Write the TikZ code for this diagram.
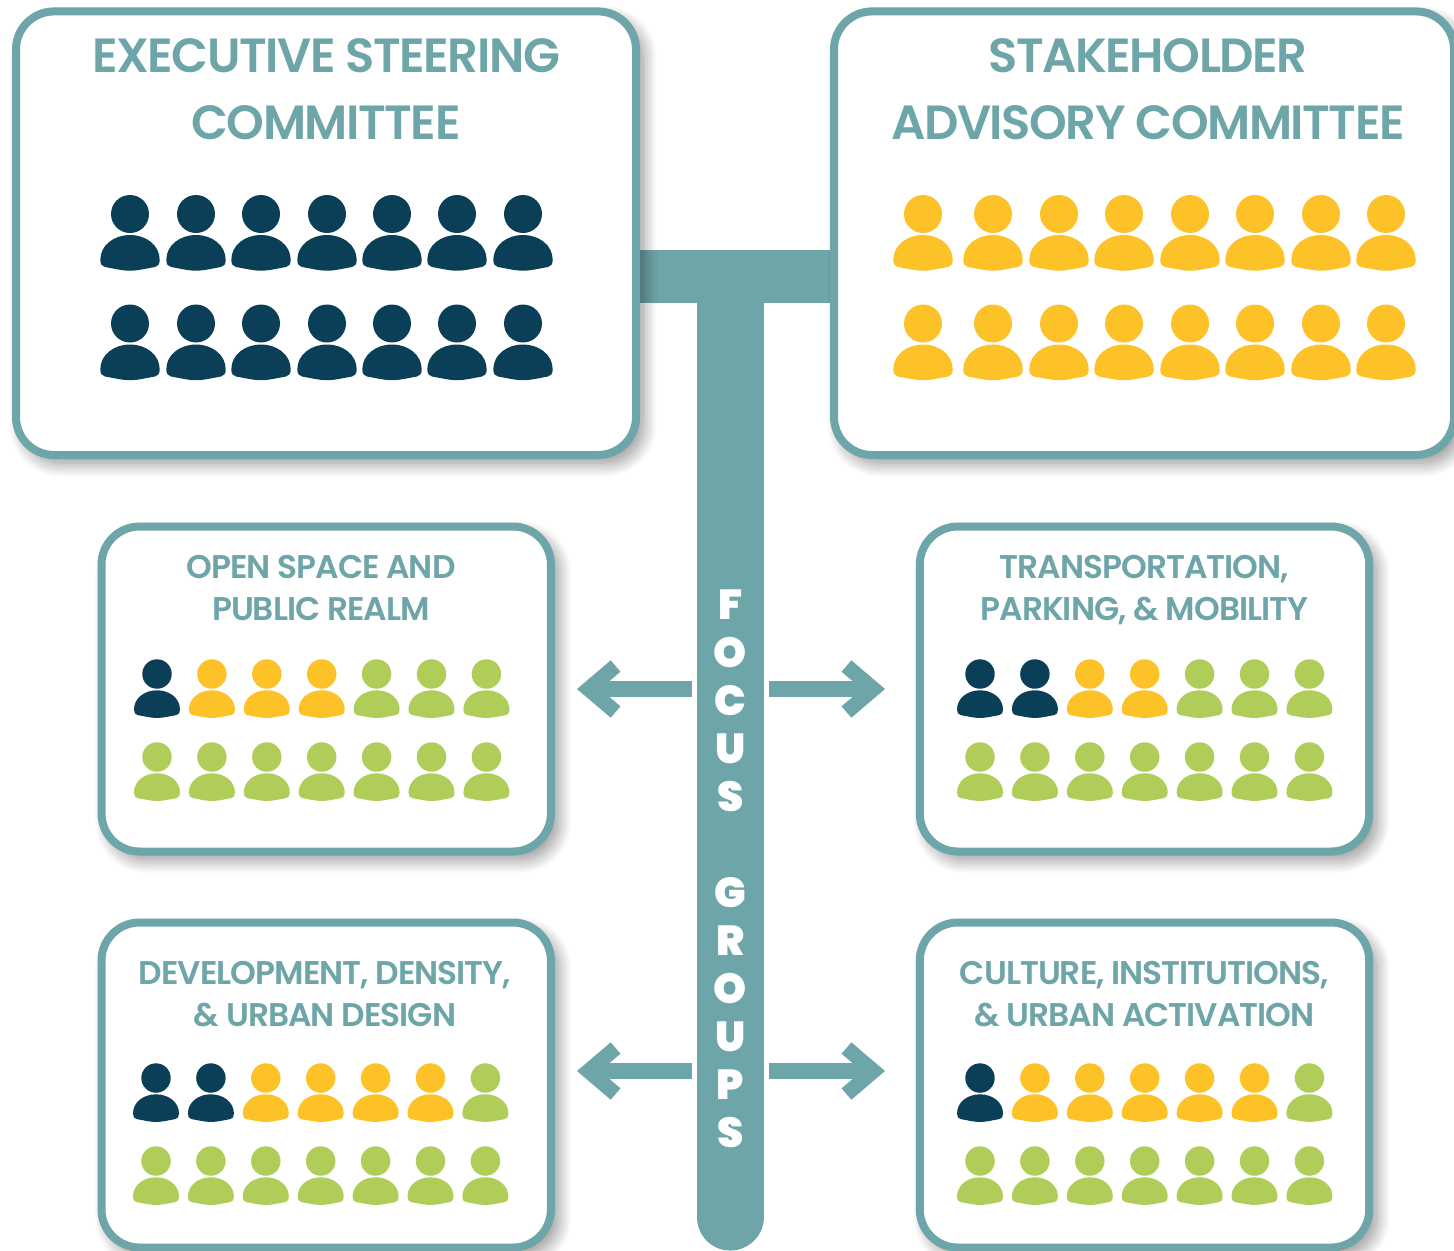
\documentclass[tikz,border=0pt]{standalone}
\usepackage{fontspec}
\usepackage{tikz}
\usetikzlibrary{arrows.meta,shadows.blur}
\setmainfont{Poppins}
\newfontfamily\titlefont[UprightFont=* SemiBold,LetterSpace=-3]{Poppins}
\newfontfamily\barfont[BoldFont=* Black]{Poppins}
\definecolor{tealc}{HTML}{6DA5A8}
\definecolor{navyc}{HTML}{0A3F57}
\definecolor{yellowc}{HTML}{FCC228}
\definecolor{greenc}{HTML}{AFCD58}
\tikzset{
	person/.pic={
		\fill[pic actions](0,0)circle(19);
		\fill[pic actions](-29.7,46).. controls (-29.7,31) and (-16,21) .. (0,21)
			.. controls (16,21) and (29.7,31) .. (29.7,46)
			.. controls (29.7,50) and (28,52.5) .. (25,53)
			.. controls (16,54.5) and (8,56.7) .. (0,56.7)
			.. controls (-8,56.7) and (-16,54.5) .. (-25,53)
			.. controls (-28,52.5) and (-29.7,50) .. (-29.7,46)--cycle;
	},
	groupbox/.style={draw=tealc,line width=4pt,fill=white,rounded corners=19pt,inner sep=0pt,outer sep=0pt,
		blur shadow={shadow xshift=3.5pt,shadow yshift=-4pt,shadow blur radius=7pt,shadow blur steps=30,shadow opacity=45}},
	bigtitle/.style={text=tealc,align=center,font=\titlefont\fontsize{24}{33.5}\selectfont},
	smalltitle/.style={text=tealc,align=center,font=\titlefont\fontsize{16.4}{21}\selectfont},
	focusarrow/.style={draw=tealc,line width=8pt,-{Straight Barb[length=13.5pt,width=23pt,line width=7.5pt]}},
}
\begin{document}
\begin{tikzpicture}[x=.5pt,y=-.5pt]
		\useasboundingbox(0,0)rectangle(1454,1250);
		\coordinate(barleft)at(630,276.5);
		\coordinate(barright)at(840,276.5);
		\coordinate(stemtop)at(730,284);
		\coordinate(stemend)at(730,1217);
		% bar goes first, the shadows fall on it
		\draw[tealc,line width=26.5pt](barleft)--(barright);
		\draw[tealc,line width=33.5pt,line cap=round](stemtop)--(stemend);
		\node[groupbox,minimum width=310pt,minimum height=221.8pt](escbox)at(326,233.2){};
		\node[groupbox,minimum width=310pt,minimum height=221.8pt](sacbox)at(1144,233.2){};
		\node[groupbox,minimum width=224.7pt,minimum height=162.5pt](openbox)at(326.2,689){};
		\node[groupbox,minimum width=224.7pt,minimum height=162.5pt](transbox)at(1144.5,689){};
		\node[groupbox,minimum width=224.7pt,minimum height=162.5pt](devbox)at(326.2,1085){};
		\node[groupbox,minimum width=224.7pt,minimum height=162.5pt](culturebox)at(1144.5,1085){};
		% titles
		\node[bigtitle](esctitle)at(326,89.5){EXECUTIVE STEERING\\COMMITTEE};
		\node[bigtitle](sactitle)at(1148,89.5){STAKEHOLDER\\ADVISORY COMMITTEE};
		\node[smalltitle](opentitle)at(321,588){OPEN SPACE AND\\PUBLIC REALM};
		\node[smalltitle](transtitle)at(1144.5,590){TRANSPORTATION,\\PARKING, \& MOBILITY};
		\node[smalltitle](devtitle)at(325,994){DEVELOPMENT, DENSITY,\\\& URBAN DESIGN};
		\node[smalltitle](culturetitle)at(1144.5,994){CULTURE, INSTITUTIONS,\\\& URBAN ACTIVATION};
		% big committees
		\foreach \py in {214,323.5}{
			\foreach \px in {130,196,261,327,392,457,523}
				\pic[fill=navyc]at(\px,\py){person};
			\foreach \px in {923,993,1059,1124,1190,1255,1321,1386}
				\pic[fill=yellowc]at(\px,\py){person};
		}
		% focus groups, x offset then colours
		\foreach \ox/\py/\ca/\cb/\cc/\cd/\ce/\cf/\cg in {
			157/674/navyc/yellowc/yellowc/yellowc/greenc/greenc/greenc,
			157/757/greenc/greenc/greenc/greenc/greenc/greenc/greenc,
			980/674/navyc/navyc/yellowc/yellowc/greenc/greenc/greenc,
			980/757/greenc/greenc/greenc/greenc/greenc/greenc/greenc,
			156/1078/navyc/navyc/yellowc/yellowc/yellowc/yellowc/greenc,
			156/1161/greenc/greenc/greenc/greenc/greenc/greenc/greenc,
			980/1078/navyc/yellowc/yellowc/yellowc/yellowc/yellowc/greenc,
			980/1161/greenc/greenc/greenc/greenc/greenc/greenc/greenc}{
			\foreach \pc [count=\i from 0] in {\ca,\cb,\cc,\cd,\ce,\cf,\cg}
				\pic[fill=\pc,scale=.775]at({\ox+54.9*\i},\py){person};
		}
		% stacked label on the stem
		\node[text=white,align=center,font=\barfont\bfseries\fontsize{21}{24}\selectfont](focuslabel)at(730.5,869)
			{F\\O\\C\\U\\S\\[24pt]G\\R\\O\\U\\P\\S};
		\coordinate(openfrom)at(692,689);
		\coordinate(opento)at(577,689);
		\coordinate(transfrom)at(769,689);
		\coordinate(transto)at(885,689);
		\coordinate(devfrom)at(692,1071);
		\coordinate(devto)at(577,1071);
		\coordinate(culturefrom)at(769,1071);
		\coordinate(cultureto)at(885,1071);
		\draw[focusarrow](openfrom)--(opento);
		\draw[focusarrow](transfrom)--(transto);
		\draw[focusarrow](devfrom)--(devto);
		\draw[focusarrow](culturefrom)--(cultureto);
	\end{tikzpicture}
\end{document}
